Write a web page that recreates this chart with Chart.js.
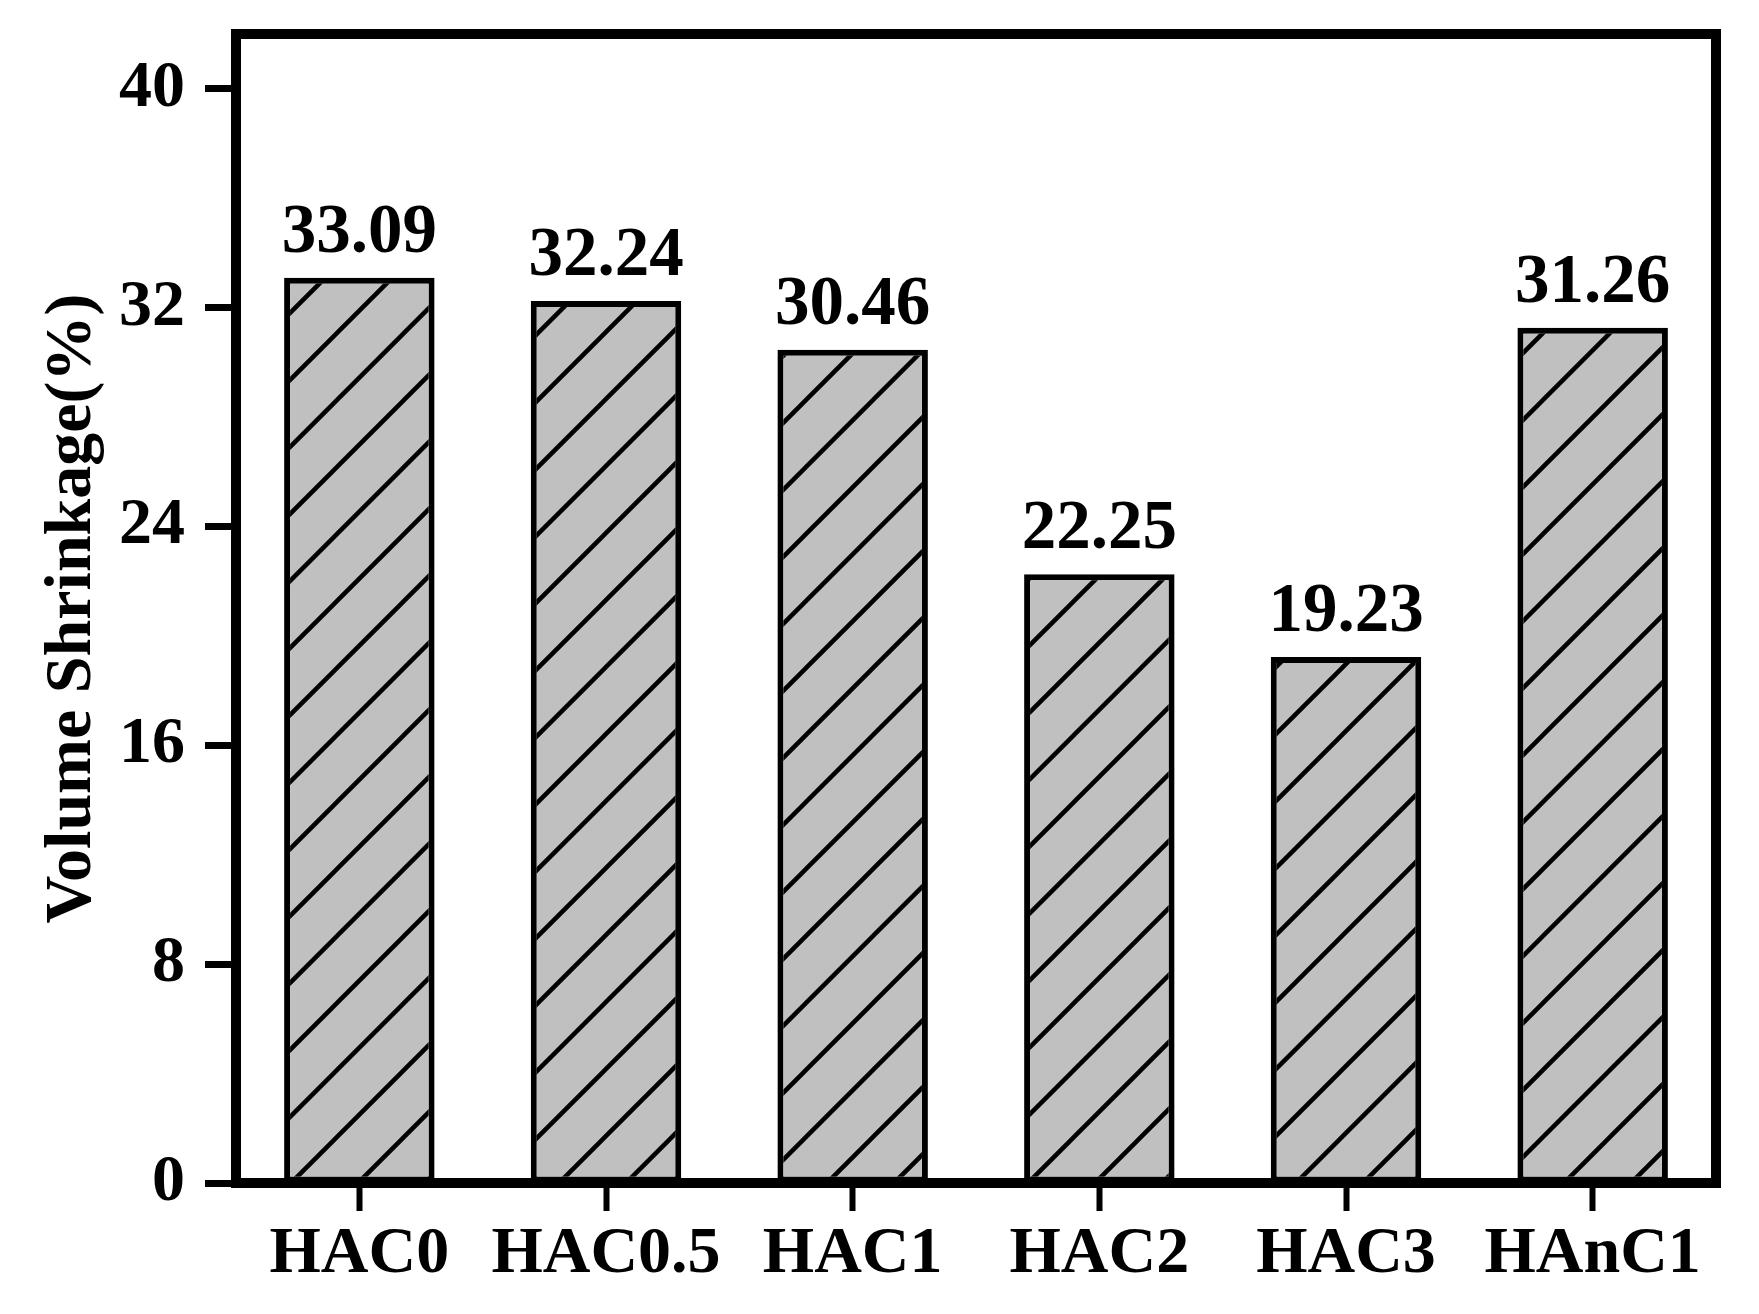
<!DOCTYPE html>
<html>
<head>
<meta charset="utf-8">
<script src="https://cdn.jsdelivr.net/npm/chart.js@4.4.0/dist/chart.umd.min.js"></script>
<style>
  body { margin: 0; background: #fff; }
  canvas { display: block; }
</style>
</head>
<body>
<canvas id="myChart" width="1759" height="1314"></canvas>
<script>
// data
const labels = ['HAC0', 'HAC0.5', 'HAC1', 'HAC2', 'HAC3', 'HAnC1'];
const shrinkage = [33.09, 32.24, 30.46, 22.25, 19.23, 31.26];
const yMin = 0;
const yMax = 42;
const yStep = 8;

const ctx = document.getElementById('myChart').getContext('2d');

// grey fill with "/" hatch lines
function makeHatch() {
    const s = 67;
    const c = document.createElement('canvas');
    c.width = s;
    c.height = s;
    const g = c.getContext('2d');
    g.fillStyle = '#c0c0c0';
    g.fillRect(0, 0, s, s);
    g.strokeStyle = '#000';
    g.lineWidth = 4.5;
    g.beginPath();
    [0, s, 2 * s].forEach(k => {
        g.moveTo(-s, k + s);
        g.lineTo(2 * s, k - 2 * s);
    });
    g.stroke();
    return ctx.createPattern(c, 'repeat');
}

const font = 'Liberation Serif';

const frame = {
    id: 'frame',
    afterDatasetsDraw(chart) {
        const a = chart.chartArea;
        const c = chart.ctx;
        c.save();
        c.strokeStyle = '#000';
        c.lineWidth = 10;
        c.strokeRect(a.left, a.top, a.right - a.left, a.bottom - a.top);

        // value labels above bars
        const meta = chart.getDatasetMeta(0);
        c.fillStyle = '#000';
        c.font = 'bold 69px "' + font + '"';
        c.textAlign = 'center';
        c.textBaseline = 'alphabetic';
        meta.data.forEach((bar, i) => {
            c.fillText(shrinkage[i].toFixed(2), bar.x, bar.y - 26);
        });
        c.restore();
    }
};

const myChart = new Chart(ctx, {
    type: 'bar',
    data: {
        labels: labels,
        datasets: [{
            data: shrinkage,
            backgroundColor: makeHatch(),
            borderColor: '#000',
            borderWidth: 6,
            borderSkipped: false,
            barPercentage: 0.61,
            categoryPercentage: 1.0
        }]
    },
    options: {
        responsive: false,
        animation: false,
        layout: {
            padding: { top: 34, right: 43, left: 0, bottom: 0 }
        },
        plugins: {
            legend: { display: false },
            tooltip: { enabled: false }
        },
        scales: {
            x: {
                border: { display: false },
                grid: {
                    offset: false,
                    drawOnChartArea: false,
                    drawTicks: true,
                    tickLength: 28,
                    tickWidth: 6,
                    tickColor: '#000'
                },
                ticks: {
                    color: '#000',
                    padding: 4,
                    font: { family: font, size: 66, weight: 'bold' },
                    maxRotation: 0
                },
                afterFit(scale) {
                    scale.height = 131;
                    scale.paddingLeft = 0;
                    scale.paddingRight = 0;
                }
            },
            y: {
                min: yMin,
                max: yMax,
                border: { display: false },
                grid: {
                    drawOnChartArea: false,
                    drawTicks: true,
                    tickLength: 31,
                    tickWidth: 7,
                    tickColor: '#000'
                },
                ticks: {
                    stepSize: yStep,
                    includeBounds: false,
                    color: '#000',
                    padding: 20,
                    font: { family: font, size: 66, weight: 'bold' }
                },
                title: {
                    display: true,
                    text: 'Volume Shrinkage(%)',
                    color: '#000',
                    font: { family: font, size: 66, weight: 'bold' },
                    padding: { top: 33, bottom: 0 }
                },
                afterFit(scale) {
                    scale.width = 236;
                    scale.paddingTop = 0;
                    scale.paddingBottom = 0;
                }
            }
        }
    },
    plugins: [frame]
});
</script>
</body>
</html>
